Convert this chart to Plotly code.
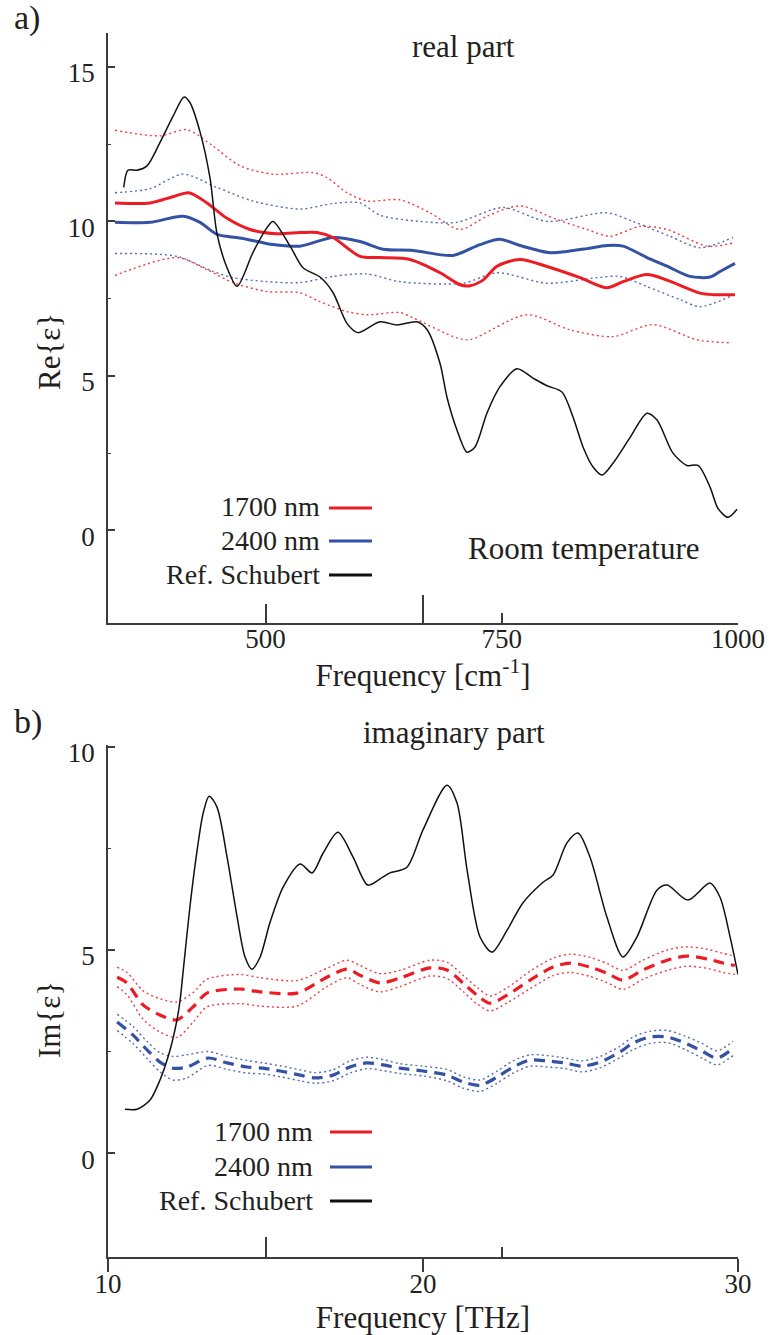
import plotly.graph_objects as go

W, H = 769, 1335
FONT = "Liberation Serif, Times New Roman, serif"
INK = "#231F20"
RED = "#ED1C24"
BLUE = "#3452A4"
AX = "#3C3C3C"

# ---------------- panel a) real part, x in cm^-1 ----------------
re_ref_x = [350, 354.5, 364, 374.6, 388.4, 402.1, 413.8, 420, 430.7, 441.3, 448.7, 459.3, 469.9,
            486.8, 501.6, 508, 526, 539.7, 557.7, 571.4, 586.2, 597.9, 621.2, 639.1, 660.3, 670.9,
            684.7, 692.1, 702.6, 713.2, 721.7, 734.4, 748.1, 766.1, 783, 797.9, 813.7, 825.4, 836,
            846.6, 856.1, 867.7, 885.7, 903.7, 914.3, 931.2, 946.1, 957.7, 970.4, 978.8, 989.4, 999]
re_ref_y = [11.1, 11.66, 11.66, 11.8, 12.56, 13.4, 14.03, 13.85, 12.9, 11.4, 9.6, 8.5, 7.9,
            9.0, 9.8, 10.0, 9.2, 8.5, 8.2, 7.7, 6.7, 6.4, 6.75, 6.65, 6.75, 6.5,
            5.4, 4.3, 3.25, 2.53, 2.7, 3.8, 4.65, 5.23, 4.93, 4.68, 4.48, 3.67, 2.7,
            2.05, 1.79, 2.17, 3.0, 3.79, 3.57, 2.5, 2.1, 2.1, 1.4, 0.71, 0.42, 0.68]

re_1700_x = [340.7, 377.8, 402.1, 419, 438, 459.3, 483.6, 512.2, 536.5, 554.5, 571.4, 600, 621.2,
             652.9, 684.7, 705.8, 716.4, 730.2, 745, 769.3, 797.9, 832.8, 861.4, 878.3, 903.7,
             924.9, 959.8, 973.5, 996.8]
re_1700_y = [10.6, 10.6, 10.8, 10.93, 10.6, 10.1, 9.74, 9.6, 9.64, 9.64, 9.48, 8.87, 8.83,
             8.77, 8.34, 7.95, 7.92, 8.1, 8.55, 8.77, 8.54, 8.18, 7.85, 8.05, 8.28,
             8.1, 7.68, 7.63, 7.63]

re_2400_x = [340.7, 377.8, 412.7, 430.7, 448.7, 476.2, 508, 536.5, 571.4, 600, 624.3, 656, 698.4,
             726.9, 748.1, 769.3, 801, 819, 840.2, 861.4, 878.3, 903.7, 924.9, 949.2, 970.4, 981, 996.8]
re_2400_y = [9.97, 9.97, 10.17, 9.97, 9.58, 9.45, 9.25, 9.2, 9.48, 9.35, 9.1, 9.06, 8.9,
             9.25, 9.42, 9.22, 8.99, 9.03, 9.12, 9.22, 9.2, 8.83, 8.55, 8.22, 8.2, 8.38, 8.64]

re_1700_hi_x = [340.7, 388.4, 416.9, 444.4, 473, 508, 550.3, 565.1, 586.2, 607.4, 642.3, 674, 705.8,
                734.4, 769.3, 808.5, 840.2, 864.6, 896.3, 924.9, 967.2, 994.7]
re_1700_hi_y = [12.95, 12.77, 12.97, 12.44, 11.8, 11.53, 11.58, 11.42, 10.93, 10.66, 10.7, 10.28, 9.74,
                10.17, 10.5, 10.06, 9.74, 9.52, 9.84, 9.74, 9.2, 9.3]
re_1700_lo_x = [340.7, 406.3, 438, 465.6, 501.6, 536.5, 557.7, 586.2, 607.4, 642.3, 656, 702.6, 716.4,
                776.7, 822.2, 867.7, 910, 956.6, 991.5]
re_1700_lo_y = [8.25, 8.83, 8.44, 8.02, 7.73, 7.69, 7.4, 7.08, 6.98, 7.05, 6.88, 6.23, 6.17,
                6.98, 6.49, 6.27, 6.66, 6.17, 6.07]
re_2400_hi_x = [340.7, 377.8, 412.7, 448.7, 486.8, 536.5, 571.4, 600, 621.2, 663.5, 702.6, 751.3,
                797.9, 861.4, 888.9, 928, 959.8, 994.7]
re_2400_hi_y = [10.93, 11.06, 11.53, 11.1, 10.66, 10.4, 10.58, 10.6, 10.2, 10.0, 9.97, 10.45,
                10.0, 10.28, 10.0, 9.52, 9.15, 9.48]
re_2400_lo_x = [340.7, 406.3, 444.4, 465.6, 501.6, 536.5, 571.4, 607.4, 642.3, 709.0, 745, 797.9,
                850.8, 875.1, 903.7, 938.6, 959.8, 991.5]
re_2400_lo_y = [8.96, 8.87, 8.38, 8.18, 8.05, 8.02, 8.22, 8.3, 8.05, 8.0, 8.34, 8.0,
                8.18, 8.22, 7.89, 7.47, 7.24, 7.57]

re_xtick_vals = [500, 750, 1000]
re_xtick_text = ["500", "750", "1000"]
re_thz_marks = [666.67, 1000]   # 20 THz and 30 THz on the cm^-1 scale
re_thz_minor = [500]            # 15 THz

# ---------------- panel b) imaginary part, x in THz ----------------
im_ref_x = [10.54, 10.92, 11.33, 11.65, 11.97, 12.19, 12.29, 12.38, 12.6, 12.83, 13.02, 13.21, 13.46,
            13.78, 14.1, 14.35, 14.57, 14.83, 15.14, 15.56, 16.1, 16.48, 16.83, 17.3, 17.78, 18.25,
            18.73, 18.95, 19.49, 20.0, 20.76, 21.08, 21.4, 21.81, 22.19, 22.67, 23.17, 23.81, 24.13,
            24.57, 24.92, 25.3, 25.84, 26.35, 26.79, 27.43, 27.75, 28.41, 29.11, 29.43, 29.75, 30.0]
im_ref_y = [1.08, 1.08, 1.3, 1.8, 2.54, 3.28, 3.77, 4.43, 6.06, 7.46, 8.37, 8.79, 8.52,
            7.29, 5.81, 4.83, 4.53, 4.83, 5.67, 6.55, 7.12, 6.9, 7.39, 7.9, 7.29, 6.6,
            6.8, 6.9, 7.04, 7.96, 9.06, 8.62, 6.97, 5.32, 4.95, 5.49, 6.16, 6.67, 6.85,
            7.64, 7.88, 7.29, 5.81, 4.83, 5.32, 6.48, 6.6, 6.23, 6.65, 6.3, 5.32, 4.4]

im_1700_x = [10.29, 10.6, 11.11, 11.65, 12.19, 12.7, 13.14, 14.19, 14.83, 16.0, 16.95, 17.59, 18.0,
             18.63, 19.27, 20.22, 20.76, 21.27, 21.71, 22.13, 22.67, 23.4, 24.13, 24.67, 25.3,
             25.84, 26.35, 26.98, 27.75, 28.38, 29.02, 29.52, 29.9]
im_1700_y = [4.33, 4.19, 3.65, 3.4, 3.28, 3.6, 3.94, 4.04, 3.97, 3.94, 4.33, 4.53, 4.38,
             4.19, 4.31, 4.56, 4.51, 4.19, 3.89, 3.69, 3.89, 4.26, 4.58, 4.68, 4.58,
             4.43, 4.26, 4.51, 4.75, 4.85, 4.78, 4.68, 4.62]
im_1700_hi = [4.58, 4.45, 4.0, 3.8, 3.72, 3.95, 4.28, 4.4, 4.32, 4.25, 4.55, 4.75, 4.62,
              4.42, 4.5, 4.75, 4.7, 4.38, 4.08, 3.87, 4.07, 4.48, 4.8, 4.9, 4.82,
              4.67, 4.5, 4.75, 5.0, 5.08, 5.02, 4.92, 4.85]
im_1700_lo = [4.1, 3.9, 3.3, 2.98, 2.85, 3.22, 3.6, 3.68, 3.62, 3.62, 4.1, 4.32, 4.15,
              3.97, 4.1, 4.36, 4.3, 3.98, 3.68, 3.5, 3.7, 4.05, 4.37, 4.45, 4.35,
              4.2, 4.03, 4.28, 4.5, 4.6, 4.55, 4.45, 4.4]

im_2400_x = [10.29, 10.79, 11.24, 11.65, 12.06, 12.51, 13.17, 13.78, 14.41, 14.92, 15.46, 16.1, 16.57,
             17.14, 17.68, 18.22, 18.73, 19.27, 20.0, 20.76, 21.27, 21.81, 22.35, 22.86, 23.4, 23.94,
             24.51, 25.05, 25.62, 26.25, 26.67, 27.21, 27.75, 28.32, 28.86, 29.33, 29.84]
im_2400_y = [3.23, 2.91, 2.54, 2.24, 2.09, 2.12, 2.34, 2.22, 2.12, 2.09, 2.02, 1.92, 1.85,
             1.92, 2.12, 2.22, 2.17, 2.09, 2.02, 1.92, 1.75, 1.67, 1.87, 2.12, 2.29, 2.27,
             2.22, 2.14, 2.24, 2.49, 2.71, 2.86, 2.86, 2.71, 2.51, 2.34, 2.58]
im_2400_hi = [3.42, 3.12, 2.75, 2.47, 2.38, 2.42, 2.5, 2.38, 2.28, 2.22, 2.15, 2.05, 1.98,
              2.05, 2.27, 2.36, 2.3, 2.2, 2.14, 2.06, 1.88, 1.8, 2.02, 2.27, 2.42, 2.4,
              2.34, 2.27, 2.38, 2.63, 2.86, 3.0, 3.02, 2.88, 2.7, 2.52, 2.75]
im_2400_lo = [3.02, 2.7, 2.33, 2.0, 1.8, 1.85, 2.16, 2.06, 1.97, 1.95, 1.88, 1.78, 1.72,
              1.78, 1.97, 2.08, 2.03, 1.96, 1.9, 1.78, 1.6, 1.52, 1.72, 1.97, 2.14, 2.12,
              2.08, 2.0, 2.1, 2.35, 2.55, 2.7, 2.72, 2.55, 2.34, 2.17, 2.4]

im_xtick_vals = [10, 20, 30]
im_xtick_text = ["10", "20", "30"]
im_cm_marks = [15, 30]      # 500 cm^-1 and 1000 cm^-1 on the THz scale
im_cm_minor = [22.5]        # 750 cm^-1

legend_names = ["1700 nm", "2400 nm", "Ref. Schubert"]
legend_colors = [RED, BLUE, "#111111"]


def P(x, y):
    return x / W, 1 - y / H


fig = go.Figure()


def line(x, y, color, width, dash="solid", xa="x", ya="y", opacity=1.0, name=""):
    fig.add_trace(go.Scatter(x=x, y=y, mode="lines", xaxis=xa, yaxis=ya, name=name,
                             showlegend=False, opacity=opacity, hoverinfo="skip",
                             line=dict(color=color, width=width, dash=dash, shape="spline",
                                       smoothing=0.8)))


DOT = "2px,3px"
# panel a
line(re_1700_hi_x, re_1700_hi_y, RED, 1.4, DOT, opacity=0.85)
line(re_1700_lo_x, re_1700_lo_y, RED, 1.4, DOT, opacity=0.85)
line(re_2400_hi_x, re_2400_hi_y, BLUE, 1.4, DOT, opacity=0.85)
line(re_2400_lo_x, re_2400_lo_y, BLUE, 1.4, DOT, opacity=0.85)
line(re_2400_x, re_2400_y, BLUE, 3, name="2400 nm")
line(re_1700_x, re_1700_y, RED, 3, name="1700 nm")
line(re_ref_x, re_ref_y, "#111111", 1.5, xa="x3", ya="y", name="Ref. Schubert")
# panel b
line(im_1700_x, im_1700_hi, RED, 1.4, DOT, xa="x2", ya="y2", opacity=0.85)
line(im_1700_x, im_1700_lo, RED, 1.4, DOT, xa="x2", ya="y2", opacity=0.85)
line(im_2400_x, im_2400_hi, BLUE, 1.4, DOT, xa="x2", ya="y2", opacity=0.85)
line(im_2400_x, im_2400_lo, BLUE, 1.4, DOT, xa="x2", ya="y2", opacity=0.85)
line(im_1700_x, im_1700_y, RED, 3.2, "11px,7px", xa="x2", ya="y2", name="1700 nm")
line(im_2400_x, im_2400_y, BLUE, 3.2, "11px,7px", xa="x2", ya="y2", name="2400 nm")
line(im_ref_x, im_ref_y, "#111111", 1.5, xa="x4", ya="y2", name="Ref. Schubert")

xdom = [108 / W, 738 / W]
tickfont = dict(family=FONT, size=27, color=INK)
base_ax = dict(showgrid=False, zeroline=False, linecolor=AX, linewidth=1.6, automargin=False,
               tickcolor=AX, tickwidth=1.5, tickfont=tickfont)

fig.update_layout(
    width=W, height=H, margin=dict(l=0, r=0, t=0, b=0, pad=0, autoexpand=False),
    paper_bgcolor="white", plot_bgcolor="white", showlegend=False,
    font=dict(family=FONT, color=INK),
    xaxis=dict(base_ax, domain=xdom, range=[1000 / 3, 1000], anchor="y", showline=True,
               ticks="inside", ticklen=10, tickmode="array", tickvals=re_xtick_vals,
               ticktext=re_xtick_text, ticklabelstandoff=-9,
               title=dict(text="Frequency [cm<sup>-1</sup>]", font=dict(family=FONT, size=31, color=INK),
                          standoff=0)),
    xaxis3=dict(base_ax, domain=xdom, range=[1000 / 3, 1000], anchor="y", overlaying="x",
                showline=False, ticks="inside", ticklen=28, tickmode="array", tickvals=re_thz_marks,
                showticklabels=False,
                minor=dict(ticks="inside", ticklen=19, tickmode="array", tickvals=re_thz_minor,
                           tickcolor=AX, tickwidth=1.5, showgrid=False)),
    yaxis=dict(base_ax, domain=[1 - 623 / H, 1 - 33 / H], range=[-3.0, 16.1], anchor="x",
               showline=True, ticks="inside", ticklen=7, tickmode="array", tickvals=[0, 5, 10, 15],
               ticklabelstandoff=6, ticklabelshift=6,
               minor=dict(ticks="inside", ticklen=3, tickmode="array", tickvals=[2.5, 7.5, 12.5],
                          tickcolor=AX, tickwidth=1.2, showgrid=False)),
    xaxis2=dict(base_ax, domain=xdom, range=[10, 30], anchor="y2", showline=True,
                ticks="outside", ticklen=13, tickmode="array", tickvals=im_xtick_vals,
                ticktext=im_xtick_text, ticklabelstandoff=-11,
                title=dict(text="Frequency [THz]", font=dict(family=FONT, size=31, color=INK),
                           standoff=9)),
    xaxis4=dict(base_ax, domain=xdom, range=[10, 30], anchor="y2", overlaying="x2",
                showline=False, ticks="inside", ticklen=20, tickmode="array", tickvals=im_cm_marks,
                showticklabels=False,
                minor=dict(ticks="inside", ticklen=10, tickmode="array", tickvals=im_cm_minor,
                           tickcolor=AX, tickwidth=1.5, showgrid=False)),
    yaxis2=dict(base_ax, domain=[1 - 1257 / H, 1 - 745 / H], range=[-2.56, 10.05], anchor="x2",
                showline=True, ticks="inside", ticklen=7, tickmode="array", tickvals=[0, 5, 10],
                ticklabelstandoff=6, ticklabelshift=6,
                minor=dict(ticks="inside", ticklen=3, tickmode="array", tickvals=[2.5, 7.5],
                           tickcolor=AX, tickwidth=1.2, showgrid=False)),
)


def text(s, x, y, size, xanchor="center", angle=0):
    px_, py_ = P(x, y)
    fig.add_annotation(text=s, x=px_, y=py_, xref="paper", yref="paper", showarrow=False,
                       xanchor=xanchor, yanchor="middle", textangle=angle,
                       font=dict(family=FONT, size=size, color=INK))


text("a)", 12, 18, 34, "left")
text("b)", 12, 722, 34, "left")
text("real part", 463, 47, 31)
text("imaginary part", 454, 732, 31)
text("Room temperature", 584, 549, 31)
text("Re{ε}", 49, 352, 31, angle=-90)
text("Im{ε}", 49, 1020, 31, angle=-90)

legend_rows = [([322, 329, 372], [507, 540, 574]), ([315, 330, 372], [1131, 1166, 1200])]
for (xs, ys) in legend_rows:
    for name, color, yy in zip(legend_names, legend_colors, ys):
        text(name, xs[0], yy, 28, "right")
        x0, y0 = P(xs[1], yy + 1)
        x1, _ = P(xs[2], yy + 1)
        fig.add_shape(type="line", xref="paper", yref="paper", x0=x0, x1=x1, y0=y0, y1=y0,
                      line=dict(color=color, width=3))

fig.write_html("out.html")
